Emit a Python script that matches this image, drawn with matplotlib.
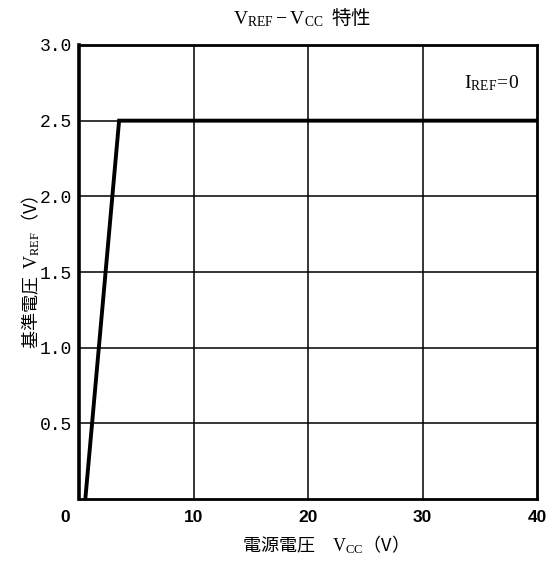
import matplotlib
matplotlib.use("Agg")
import matplotlib.pyplot as plt

# Data
vcc = [0.55, 3.5, 40.0]
vref = [0.0, 2.5, 2.5]
x_ticks = [10, 20, 30, 40]
x_labels = ["10", "20", "30", "40"]
y_ticks = [0.5, 1.0, 1.5, 2.0, 2.5, 3.0]
y_labels = ["0.5", "1.0", "1.5", "2.0", "2.5", "3.0"]

plt.rcParams['font.family'] = ['Liberation Serif', 'Noto Sans CJK JP', 'DejaVu Sans']
plt.rcParams['mathtext.fontset'] = 'custom'
plt.rcParams['mathtext.rm'] = 'Liberation Serif'
plt.rcParams['mathtext.it'] = 'Liberation Serif'

fig = plt.figure(figsize=(5.53, 5.61), dpi=100)
ax = fig.add_axes([0.1429, 0.1105, 0.9711 - 0.1429, 0.9198 - 0.1105])

ax.set_xlim(0, 40)
ax.set_ylim(0, 3.0)

for xv in x_ticks[:-1]:
    ax.axvline(xv, color='black', lw=1.1, zorder=1)
for yv in y_ticks[:-1]:
    ax.axhline(yv, color='black', lw=1.1, zorder=1)

ax.plot(vcc, vref, color='black', lw=2.8, solid_joinstyle='miter', zorder=3)

for s in ax.spines.values():
    s.set_linewidth(2.0)
ax.spines['left'].set_linewidth(2.6)

ax.set_xticks(x_ticks)
ax.set_xticklabels(x_labels, fontsize=12.5, fontweight='bold', family=['Liberation Sans'])
ax.set_yticks(y_ticks)
ax.set_yticklabels(y_labels, fontsize=13, family=['Liberation Mono'])
ax.tick_params(length=0, pad=5)
ax.tick_params(axis='x', pad=8)

ax.text(-0.02, -0.025, "0", transform=ax.transAxes, ha='right', va='top',
        fontsize=12.5, fontweight='bold', family=['Liberation Sans'])

fig.text(0.546, 0.968, r'$\mathrm{V}_{\mathrm{REF}}-\mathrm{V}_{\mathrm{CC}}$  特性', ha='center', va='center',
         fontsize=14, family=['Noto Sans CJK JP'])

fig.text(0.58, 0.03, r'電源電圧　$\mathrm{V}_{\mathrm{CC}}$（V）', ha='center', va='center',
         fontsize=13, family=['Noto Sans CJK JP'])

fig.text(0.055, 0.515, r'基準電圧  $\mathrm{V}_{\mathrm{REF}}$（V）', ha='center', va='center',
         rotation=90, fontsize=13, family=['Noto Sans CJK JP'])

ax.text(0.96, 0.915, r'$\mathrm{I}_{\mathrm{REF}}\!=\!0$', transform=ax.transAxes,
        ha='right', va='center', fontsize=14)

fig.savefig("out.png", dpi=100)
